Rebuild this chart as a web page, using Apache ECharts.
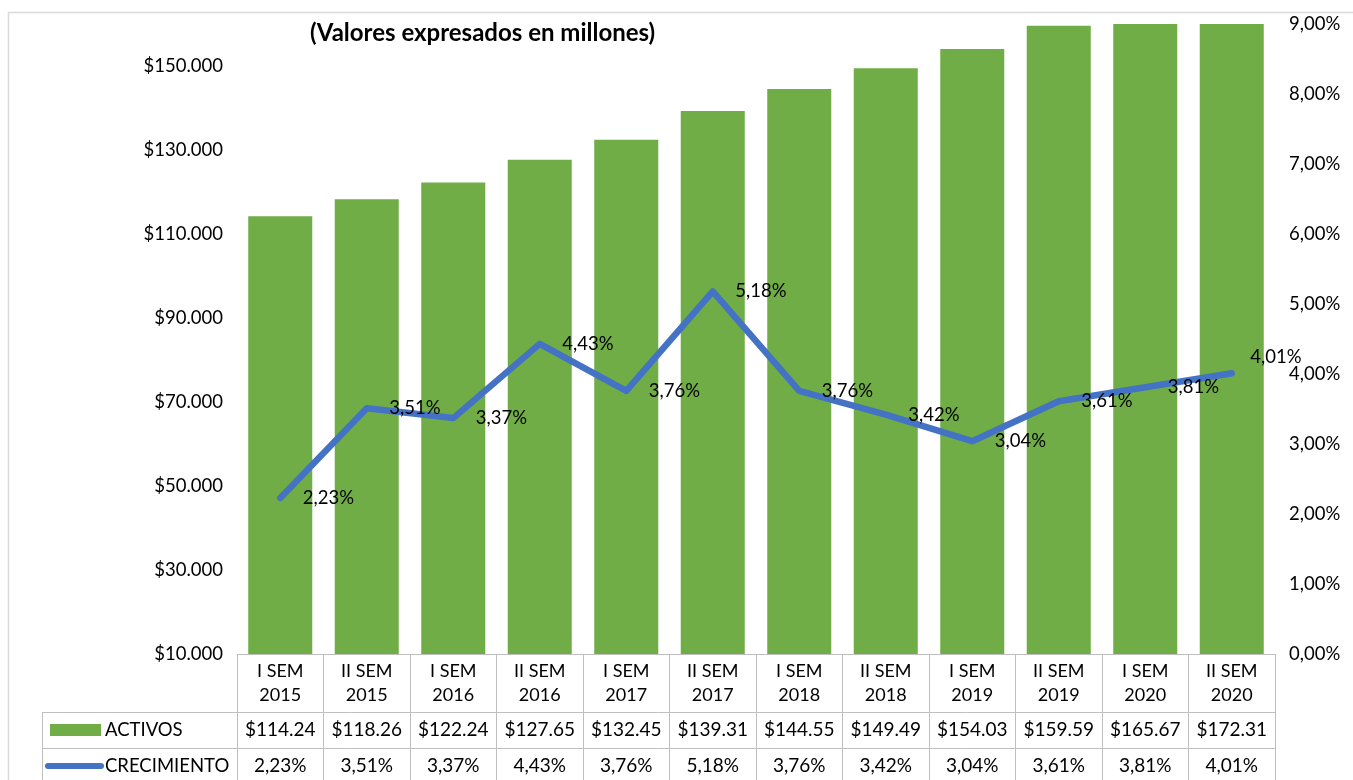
<!DOCTYPE html>
<html>
<head>
<meta charset="utf-8">
<script src="https://cdn.jsdelivr.net/npm/echarts@6/dist/echarts.min.js"></script>
<style>
html,body{margin:0;padding:0;background:#fff;}
#chart{width:1353px;height:780px;}
</style>
</head>
<body>
<div id="chart"></div>
<script>
var titleText = '(Valores expresados en millones)';
var categories = ['I SEM\n2015','II SEM\n2015','I SEM\n2016','II SEM\n2016','I SEM\n2017','II SEM\n2017','I SEM\n2018','II SEM\n2018','I SEM\n2019','II SEM\n2019','I SEM\n2020','II SEM\n2020'];
var activos = [114.24,118.26,122.24,127.65,132.45,139.31,144.55,149.49,154.03,159.59,165.67,172.31];
var crecimiento = [2.23,3.51,3.37,4.43,3.76,5.18,3.76,3.42,3.04,3.61,3.81,4.01];
var seriesNames = ['ACTIVOS','CRECIMIENTO'];

var FONT = 'Lato';
var GREEN = '#70AD47';
var BLUE = '#4472C4';
var GRID_LINE = '#BFBFBF';

function pct(v){ return v.toFixed(2).replace('.', ',') + '%'; }
function money(v){ return '$' + v.toFixed(2); }

var activosLabels = activos.map(money);
var crecLabels = crecimiento.map(pct);

var chart = echarts.init(document.getElementById('chart'));
var option = {
  backgroundColor: '#fff',
  textStyle: { fontFamily: FONT },
  title: {
    text: titleText, left: 305, top: 16,
    textStyle: { fontFamily: FONT, fontSize: 24, fontWeight: 'bold', color: '#000' }
  },
  grid: { left: 237, right: 78, top: 24, bottom: 126, containLabel: false },
  xAxis: [
    {
      type: 'category', data: categories, position: 'bottom',
      axisLine: { show: true, lineStyle: { color: GRID_LINE, width: 1 } },
      axisTick: { show: true, length: 126, lineStyle: { color: GRID_LINE, width: 1 } },
      axisLabel: { interval: 0, margin: 5, fontSize: 18, lineHeight: 24, color: '#000', fontFamily: FONT }
    },
    {
      type: 'category', data: activosLabels, position: 'bottom', offset: 58,
      axisLine: { show: false }, axisTick: { show: false },
      axisLabel: { interval: 0, margin: 8, fontSize: 19, color: '#000', fontFamily: FONT }
    },
    {
      type: 'category', data: crecLabels, position: 'bottom', offset: 94,
      axisLine: { show: false }, axisTick: { show: false },
      axisLabel: { interval: 0, margin: 8, fontSize: 19, color: '#000', fontFamily: FONT }
    }
  ],
  yAxis: [
    {
      type: 'value', min: 10, max: 160, interval: 20, position: 'left',
      splitLine: { show: false }, axisLine: { show: false }, axisTick: { show: false },
      axisLabel: {
        showMaxLabel: false, margin: 14, fontSize: 18.5, color: '#000', fontFamily: FONT,
        formatter: function(v){ return (v % 20 === 10) ? '$' + v + '.000' : ''; }
      }
    },
    {
      type: 'value', min: 0, max: 9, interval: 1, position: 'right',
      splitLine: { show: false }, axisLine: { show: false }, axisTick: { show: false },
      axisLabel: { margin: 14, fontSize: 18.5, color: '#000', fontFamily: FONT, formatter: function(v){ return pct(v); } }
    }
  ],
  series: [
    {
      name: seriesNames[0], type: 'bar', xAxisIndex: 0, yAxisIndex: 0,
      data: activos, barCategoryGap: '26%', clip: true,
      itemStyle: { color: GREEN }
    },
    {
      name: seriesNames[1], type: 'line', xAxisIndex: 0, yAxisIndex: 1,
      data: crecimiento.map(function(v, i){
        var d = { value: v };
        if (i === crecimiento.length - 1) d.label = { offset: [-4, -16] };
        return d;
      }),
      symbol: 'circle', symbolSize: 1, showSymbol: true,
      itemStyle: { color: BLUE },
      lineStyle: { color: BLUE, width: 6.5, cap: 'round', join: 'round' },
      label: {
        show: true, position: 'right', distance: 22, fontSize: 18.5, color: '#000', fontFamily: FONT,
        formatter: function(p){ return pct(p.value); }
      },
      z: 5
    }
  ],
  graphic: [
    { type: 'rect', shape: { x: 8.5, y: 12.5, width: 1400, height: 800 }, style: { fill: 'none', stroke: '#D9D9D9', lineWidth: 1.5 }, silent: true, z: -1 },
    { type: 'line', shape: { x1: 42, y1: 712.5, x2: 1275, y2: 712.5 }, style: { stroke: GRID_LINE, lineWidth: 1 } },
    { type: 'line', shape: { x1: 42, y1: 748.5, x2: 1275, y2: 748.5 }, style: { stroke: GRID_LINE, lineWidth: 1 } },
    { type: 'line', shape: { x1: 42.5, y1: 712, x2: 42.5, y2: 780 }, style: { stroke: GRID_LINE, lineWidth: 1 } },
    { type: 'rect', shape: { x: 50, y: 724, width: 51, height: 12 }, style: { fill: GREEN } },
    { type: 'text', x: 105, y: 730, style: { text: seriesNames[0], font: '18.5px ' + FONT, fill: '#000', textVerticalAlign: 'middle' } },
    { type: 'line', shape: { x1: 48, y1: 766, x2: 101, y2: 766 }, style: { stroke: BLUE, lineWidth: 6, lineCap: 'round' } },
    { type: 'text', x: 105, y: 766, style: { text: seriesNames[1], font: '18.5px ' + FONT, fill: '#000', textVerticalAlign: 'middle' } }
  ]
};
chart.setOption(option);
</script>
</body>
</html>
